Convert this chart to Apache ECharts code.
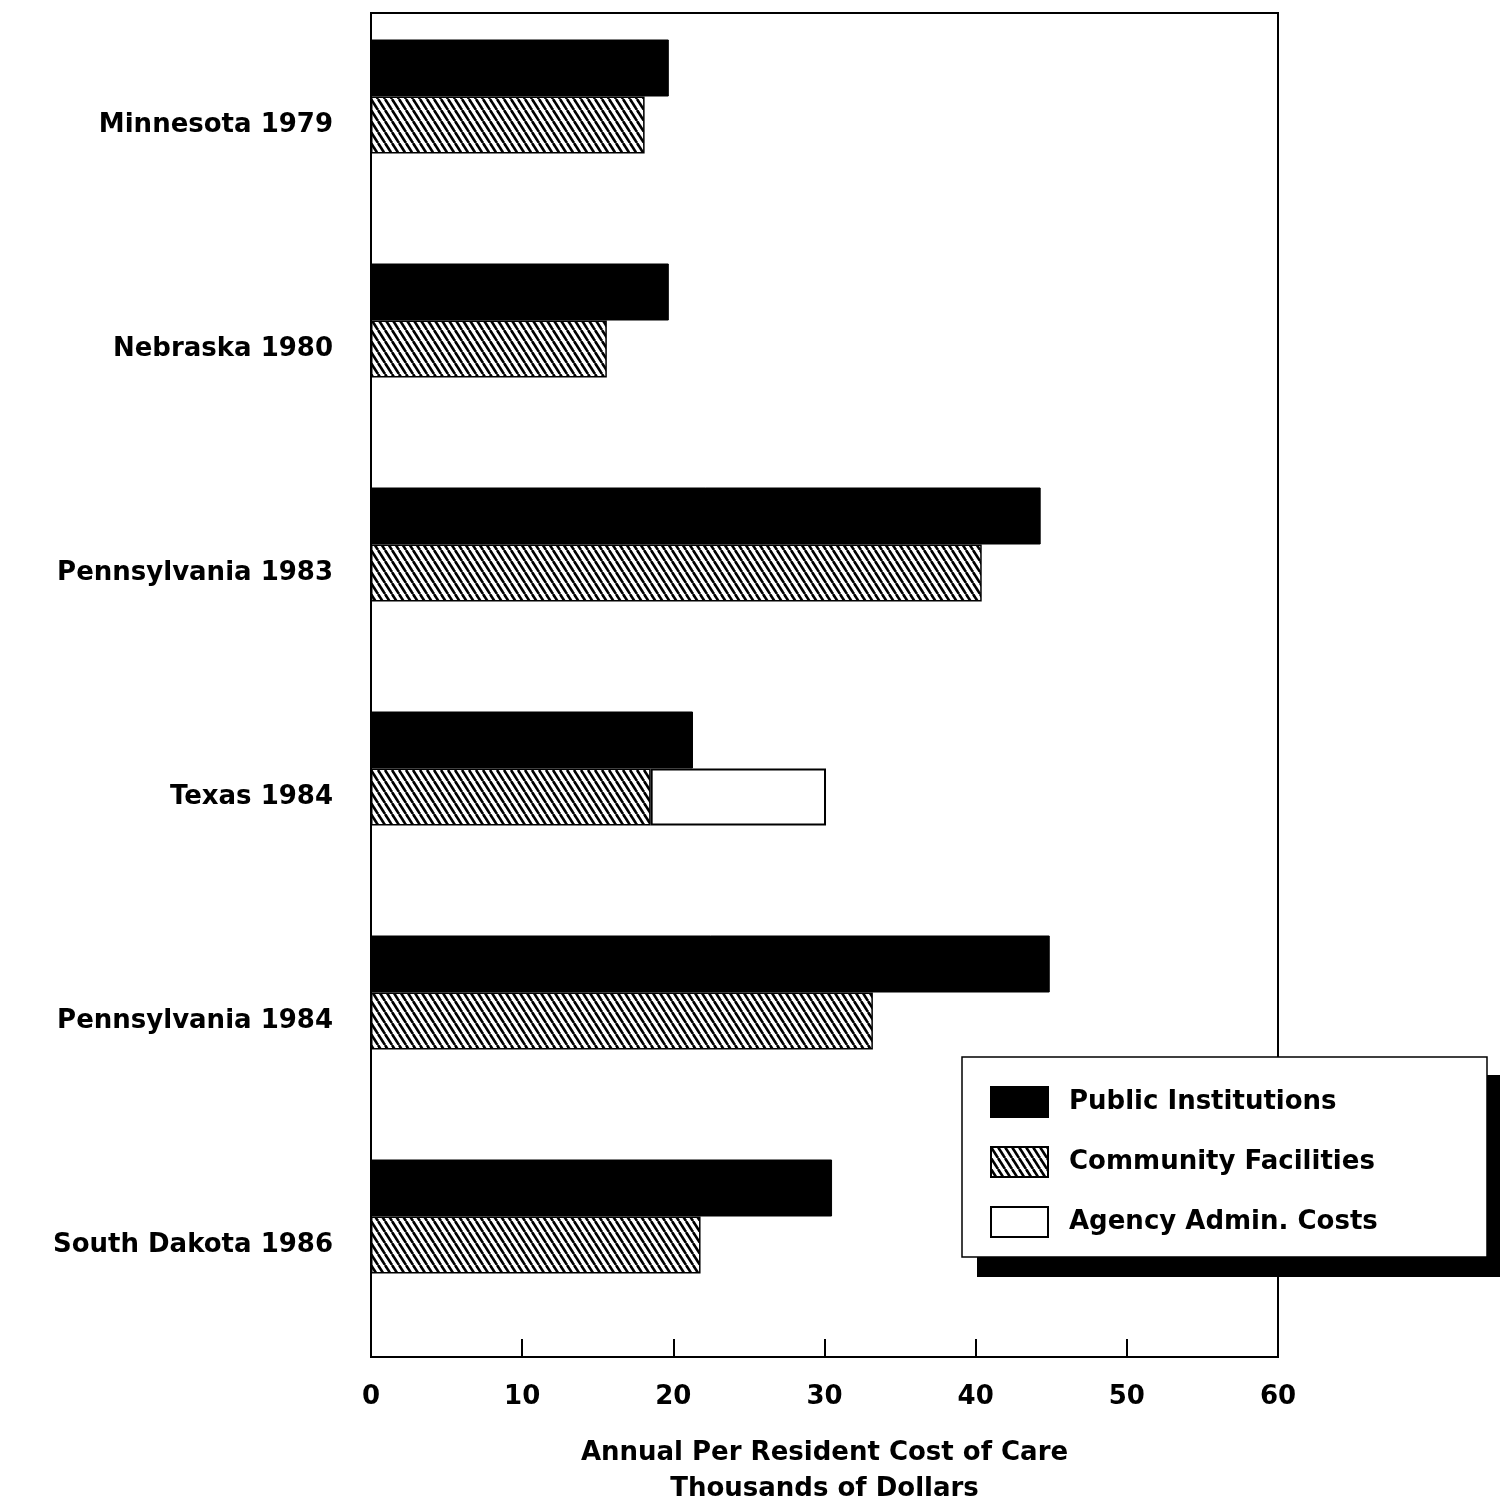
<!DOCTYPE html>
<html><head><meta charset="utf-8">
<script src="https://cdn.jsdelivr.net/npm/echarts@6/dist/echarts.min.js"></script>
<style>html,body{margin:0;padding:0;background:#fff}#c{width:1500px;height:1500px}</style>
</head><body><div id="c"></div>
<script>
const categories = ['Minnesota 1979','Nebraska 1980','Pennsylvania 1983','Texas 1984','Pennsylvania 1984','South Dakota 1986'];
const publicInst = [19.7, 19.7, 44.3, 21.3, 44.9, 30.5];
const community = [18.1, 15.6, 40.4, 18.5, 33.2, 21.8];
const agency = [null, null, null, 11.6, null, null];
const xTicks = [0, 10, 20, 30, 40, 50, 60];

function hatch() {
  const c = document.createElement('canvas');
  c.width = 7; c.height = 11;
  const g = c.getContext('2d');
  g.fillStyle = '#fff'; g.fillRect(0,0,7,11);
  g.strokeStyle = '#000'; g.lineWidth = 2.6;
  for (const dx of [-7, 0, 7]) {
    g.beginPath(); g.moveTo(dx, 0); g.lineTo(dx + 7, 11); g.stroke();
  }
  return c;
}
const hatchFill = { image: hatch(), repeat: 'repeat' };
const font = 'DejaVu Sans';
const chart = echarts.init(document.getElementById('c'));
chart.setOption({
  animation: false,
  backgroundColor: '#fff',
  grid: { left: 371, right: 222, top: 13, bottom: 143, show: true, borderColor: '#000', borderWidth: 2, outerBoundsMode: 'none', containLabel: false },
  xAxis: {
    type: 'value', min: xTicks[0], max: xTicks[xTicks.length-1], interval: 10,
    axisLine: { show: true, lineStyle: { color: '#000', width: 2 } },
    axisTick: { show: true, inside: true, length: 18, lineStyle: { color: '#000', width: 2 } },
    splitLine: { show: false },
    axisLabel: { color: '#000', fontSize: 26, fontWeight: 'bold', fontFamily: font, margin: 27 },
    name: 'Annual Per Resident Cost of Care\nThousands of Dollars',
    nameLocation: 'middle', nameGap: 78,
    nameTextStyle: { color: '#000', fontSize: 26, fontWeight: 'bold', fontFamily: font, lineHeight: 36, verticalAlign: 'top' }
  },
  yAxis: {
    type: 'category', data: categories, inverse: true,
    axisLine: { show: true, lineStyle: { color: '#000', width: 2 } },
    axisTick: { show: true, inside: true, alignWithLabel: true, length: 14, lineStyle: { color: '#000', width: 1.5 } },
    axisLabel: { color: '#000', fontSize: 26, fontWeight: 'bold', fontFamily: font, margin: 38 }
  },
  graphic: [
    { type: 'rect', z: 10, shape: { x: 977, y: 1075, width: 523, height: 202 }, style: { fill: '#000' }, silent: true },
    { type: 'rect', z: 11, shape: { x: 962, y: 1057, width: 525, height: 200 }, style: { fill: '#fff', stroke: '#000', lineWidth: 1.5 }, silent: true }
  ],
  legend: {
    orient: 'vertical', left: 990, top: 1086, z: 20,
    data: ['Public Institutions', 'Community Facilities', 'Agency Admin. Costs'],
    icon: 'rect',
    itemWidth: 57, itemHeight: 30, itemGap: 28,
    padding: 0,
    textStyle: { color: '#000', fontSize: 26, fontWeight: 'bold', fontFamily: font, padding: [0, 0, 0, 16] },
    selectedMode: false
  },
  series: [
    { name: 'Public Institutions', type: 'bar', stack: 'a', data: publicInst, barWidth: 57, barGap: '0%',
      itemStyle: { color: '#000', borderColor: '#000', borderWidth: 1 } },
    { name: 'Community Facilities', type: 'bar', stack: 'b', data: community, barWidth: 57, barGap: '0%',
      itemStyle: { color: hatchFill, borderColor: '#000', borderWidth: 1.5 } },
    { name: 'Agency Admin. Costs', type: 'bar', stack: 'b', data: agency, barWidth: 57, barGap: '0%',
      itemStyle: { color: '#fff', borderColor: '#000', borderWidth: 2 } },
    { name: 'spacer', type: 'bar', stack: 'c', data: [0,0,0,0,0,0], barWidth: 57, barGap: '0%',
      itemStyle: { color: 'transparent' }, silent: true }
  ]
});
</script>
</body></html>
